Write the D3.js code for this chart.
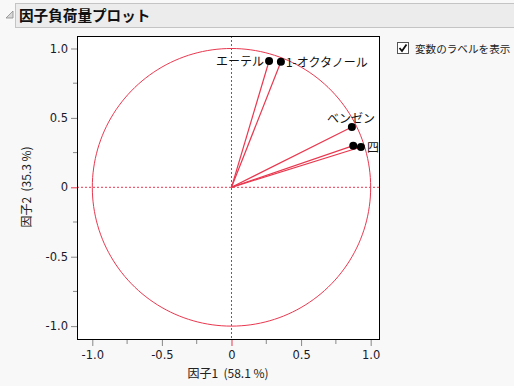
<!DOCTYPE html>
<html>
<head>
<meta charset="utf-8">
<script src="https://cdn.jsdelivr.net/npm/d3@7"></script>
<style>
  body { margin: 0; background: #f8f8f8; }
  svg { display: block; font-family: "Noto Sans CJK JP", "DejaVu Sans", sans-serif; }
</style>
</head>
<body>
<script>
// loadings
var variables = ["エーテル", "1-オクタノール", "ベンゼン", "クロロホルム", "四塩化炭素"];
var factor1 = [0.27, 0.355, 0.865, 0.875, 0.93];
var factor2 = [0.91, 0.905, 0.435, 0.30, 0.29];
var tickValues = [-1.0, -0.5, 0, 0.5, 1.0];
var minorTicks = [-0.75, -0.25, 0.25, 0.75];

var W = 514, H = 386;
var red = "#e8384f";

var svg = d3.select("body").append("svg")
  .attr("width", W).attr("height", H);

svg.append("rect").attr("width", W).attr("height", H).attr("fill", "#f8f8f8");

// header
svg.append("rect")
  .attr("x", 15.5).attr("y", 3.5).attr("width", 500).attr("height", 24)
  .attr("fill", "#ececec").attr("stroke", "#c4c4c4");
svg.append("path")
  .attr("d", "M6,18 L13,18 L13,11 Z")
  .attr("fill", "#d8d8d8").attr("stroke", "#8a8a8a").attr("stroke-width", 0.8);
svg.append("text")
  .attr("x", 19).attr("y", 21)
  .attr("font-size", 14.6).attr("font-weight", "bold").attr("fill", "#111")
  .text("因子負荷量プロット");

// plot area
var pLeft = 77, pRight = 380, pTop = 36, pBottom = 340;
var x = d3.scaleLinear().domain([-1.11, 1.067]).range([pLeft, pRight]);
var y = d3.scaleLinear().domain([-1.10, 1.09]).range([pBottom, pTop]);
var fmt = function(d) { return d === 0 ? "0" : d3.format(".1f")(d).replace("\u2212", "-"); };

svg.append("rect")
  .attr("x", pLeft).attr("y", pTop).attr("width", pRight - pLeft).attr("height", pBottom - pTop)
  .attr("fill", "#fff");

svg.append("clipPath").attr("id", "clip")
  .append("rect").attr("x", pLeft).attr("y", pTop).attr("width", pRight - pLeft).attr("height", pBottom - pTop);

var plot = svg.append("g").attr("clip-path", "url(#clip)");

// reference lines at 0
plot.append("line")
  .attr("x1", x(0)).attr("x2", x(0)).attr("y1", pTop).attr("y2", pBottom)
  .attr("stroke", "#b04050").attr("stroke-width", 1).attr("stroke-dasharray", "2,2");
plot.append("line")
  .attr("x1", pLeft).attr("x2", pRight).attr("y1", y(0)).attr("y2", y(0))
  .attr("stroke", red).attr("stroke-width", 1).attr("stroke-dasharray", "2,2");

// unit circle
var circ = d3.range(0, 361, 2).map(function(a) {
  var t = a * Math.PI / 180;
  return [x(Math.cos(t)), y(Math.sin(t))];
});
plot.append("path")
  .attr("d", d3.line()(circ))
  .attr("fill", "none").attr("stroke", red).attr("stroke-width", 1);

var pts = variables.map(function(v, i) { return {name: v, a: factor1[i], b: factor2[i]}; });

plot.selectAll(".ray").data(pts).enter().append("line")
  .attr("x1", x(0)).attr("y1", y(0))
  .attr("x2", function(d) { return x(d.a); })
  .attr("y2", function(d) { return y(d.b); })
  .attr("stroke", red).attr("stroke-width", 1.2);

plot.selectAll(".pt").data(pts).enter().append("circle")
  .attr("cx", function(d) { return x(d.a); })
  .attr("cy", function(d) { return y(d.b); })
  .attr("r", 4).attr("fill", "#000");

// labels: where JMP put them (one is hidden by overlap)
var place = {
  "エーテル": {dx: -5, dy: 5, anchor: "end"},
  "1-オクタノール": {dx: 5, dy: 5, anchor: "start"},
  "ベンゼン": {dx: -25, dy: -4, anchor: "start"},
  "四塩化炭素": {dx: 6, dy: 5, anchor: "start"}
};
plot.selectAll(".lab").data(pts.filter(function(d) { return place[d.name]; })).enter().append("text")
  .attr("x", function(d) { return x(d.a) + place[d.name].dx; })
  .attr("y", function(d) { return y(d.b) + place[d.name].dy; })
  .attr("text-anchor", function(d) { return place[d.name].anchor; })
  .attr("font-size", 12).attr("fill", "#111")
  .text(function(d) { return d.name; });

svg.append("rect")
  .attr("x", pLeft + 0.5).attr("y", pTop + 0.5).attr("width", pRight - pLeft - 1).attr("height", pBottom - pTop - 1)
  .attr("fill", "none").attr("stroke", "#000").attr("stroke-width", 1);

// axes
var numFont = "'DejaVu Sans', sans-serif";
var xAxis = svg.append("g").attr("transform", "translate(0," + pBottom + ")")
  .call(d3.axisBottom(x).tickValues(tickValues).tickSize(6).tickSizeOuter(0).tickFormat(fmt));
xAxis.select(".domain").remove();
xAxis.selectAll(".tick line").attr("stroke", function(d) { return d === 0 ? red : "#888"; });
xAxis.selectAll(".tick text").attr("font-size", 11.5).attr("font-family", numFont).attr("fill", "#1a1a2a").attr("dy", "0.9em");
svg.append("g").attr("transform", "translate(0," + pBottom + ")")
  .selectAll("line").data(minorTicks).enter().append("line")
  .attr("x1", function(d) { return x(d); }).attr("x2", function(d) { return x(d); })
  .attr("y1", 0).attr("y2", 4).attr("stroke", "#888");

var yAxis = svg.append("g").attr("transform", "translate(" + pLeft + ",0)")
  .call(d3.axisLeft(y).tickValues(tickValues).tickSize(6).tickSizeOuter(0).tickFormat(fmt));
yAxis.select(".domain").remove();
yAxis.selectAll(".tick line").attr("stroke", function(d) { return d === 0 ? red : "#888"; });
yAxis.selectAll(".tick text").attr("font-size", 11.5).attr("font-family", numFont).attr("fill", "#1a1a2a").attr("x", -9);
svg.append("g").attr("transform", "translate(" + pLeft + ",0)")
  .selectAll("line").data(minorTicks).enter().append("line")
  .attr("y1", function(d) { return y(d); }).attr("y2", function(d) { return y(d); })
  .attr("x1", 0).attr("x2", -4).attr("stroke", "#888");

svg.append("text")
  .attr("x", 228).attr("y", 378).attr("text-anchor", "middle")
  .attr("font-size", 12).attr("fill", "#222")
  .text("因子1\u00a0\u00a0(58.1 %)");
svg.append("text")
  .attr("transform", "translate(31,187) rotate(-90)").attr("text-anchor", "middle")
  .attr("font-size", 12).attr("fill", "#222")
  .text("因子2\u00a0\u00a0(35.3 %)");

// checkbox
svg.append("rect")
  .attr("x", 397.5).attr("y", 42.5).attr("width", 11).attr("height", 11)
  .attr("fill", "#fff").attr("stroke", "#555");
svg.append("path")
  .attr("d", "M399.5,48 L402,51 L406.5,44.5")
  .attr("fill", "none").attr("stroke", "#111").attr("stroke-width", 1.8);
svg.append("text")
  .attr("x", 415).attr("y", 53)
  .attr("font-size", 10.6).attr("fill", "#222")
  .text("変数のラベルを表示");
</script>
</body>
</html>
